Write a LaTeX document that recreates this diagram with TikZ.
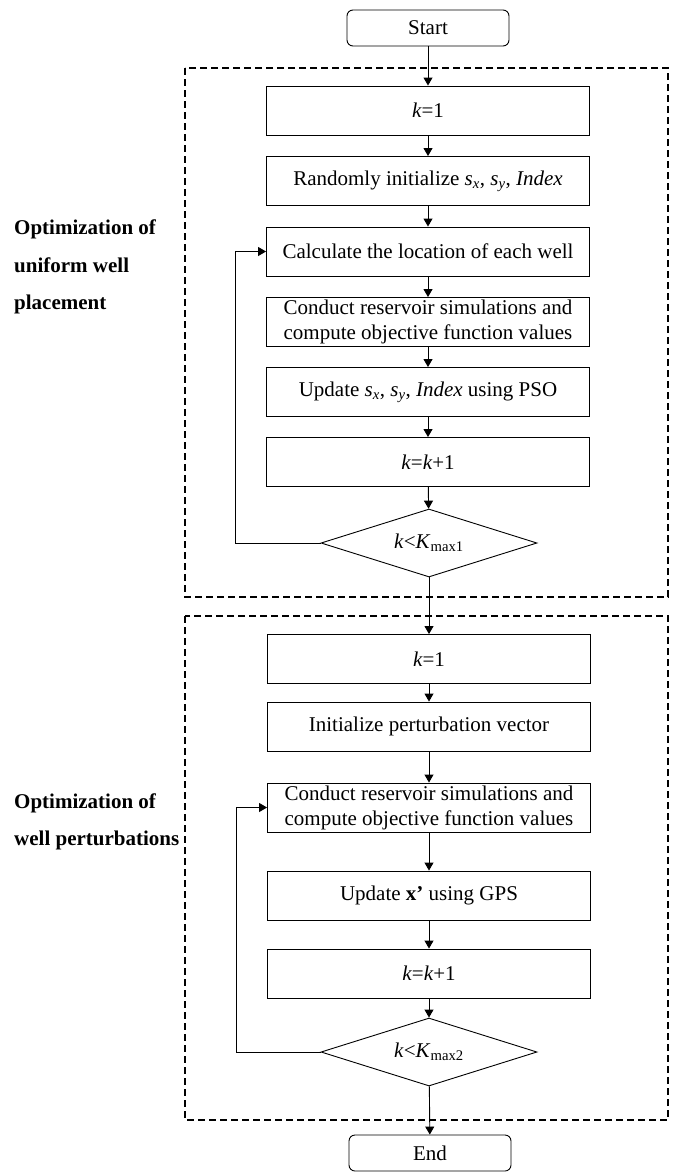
\documentclass[tikz,border=0pt]{standalone}
\usepackage{fontspec}
\setmainfont{Liberation Serif}
\usetikzlibrary{shapes.geometric, arrows.meta}

\tikzset{
	box/.style={draw, line width=0.9pt, rectangle, minimum width=323pt, minimum height=49pt, inner sep=2pt, align=center, font=\fontsize{21}{25}\selectfont},
	term/.style={draw, line width=0.9pt, rectangle, rounded corners=6pt, minimum width=162pt, minimum height=36pt, inner sep=2pt, font=\fontsize{21}{25}\selectfont},
	test/.style={draw, line width=0.9pt, diamond, aspect=3.2, minimum width=216pt, minimum height=68pt, inner sep=0pt, font=\fontsize{21}{25}\selectfont},
	frame/.style={draw, line width=2pt, dash pattern=on 7pt off 4pt},
	label/.style={anchor=west, inner sep=0pt, align=left, font=\bfseries\fontsize{21}{37.5}\selectfont},
	arr/.style={line width=0.9pt, -{Triangle[length=8pt, width=9pt]}}
}

\begin{document}
\begin{tikzpicture}[x=1pt, y=-1pt]

	\useasboundingbox (0,0) rectangle (676,1172);

	% dashed frames
	\draw[frame] (185,68) rectangle (668,597);
	\draw[frame] (185,616) rectangle (668,1120);

	\node[term] (start) at (428,28) {Start};

	% uniform well placement
	\node[box] (ka) at (428,110.5) {\textit{k}=1};
	\node[box] (init) at (428,181) {Randomly initialize \textit{s}\textsubscript{\textit{x}}, \textit{s}\textsubscript{\textit{y}}, \textit{Index}};
	\node[box] (calc) at (428,251.5) {Calculate the location of each well};
	\node[box] (sima) at (428,322) {Conduct reservoir simulations and\\compute objective function values};
	\node[box] (pso) at (428,392) {Update \textit{s}\textsubscript{\textit{x}}, \textit{s}\textsubscript{\textit{y}}, \textit{Index} using PSO};
	\node[box] (inca) at (428,462) {\textit{k}=\textit{k}+1};
	\node[test] (testa) at (429,543) {\textit{k}<\textit{K}\textsubscript{max1}};

	% well perturbations
	\node[box] (kb) at (429,659) {\textit{k}=1};
	\node[box] (pert) at (429,726.5) {Initialize perturbation vector};
	\node[box] (simb) at (429,807.5) {Conduct reservoir simulations and\\compute objective function values};
	\node[box] (gps) at (429,895.5) {Update \textbf{x’} using GPS};
	\node[box] (incb) at (429,973.5) {\textit{k}=\textit{k}+1};
	\node[test] (testb) at (429,1052) {\textit{k}<\textit{K}\textsubscript{max2}};

	\node[term] (end) at (430,1153) {End};

	\node[label] (laba) at (14,267) {Optimization of\\uniform well\\placement};
	\node[label] (labb) at (14,822) {Optimization of\\well perturbations};

	\draw[arr] (start) -- (ka);
	\draw[arr] (ka) -- (init);
	\draw[arr] (init) -- (calc);
	\draw[arr] (calc) -- (sima);
	\draw[arr] (sima) -- (pso);
	\draw[arr] (pso) -- (inca);
	\draw[arr] (inca) -- (testa);
	\draw[arr] (testa.west) -- ++(-85,0) |- (calc.west);
	\draw[arr] (testa) -- (kb);

	\draw[arr] (kb) -- (pert);
	\draw[arr] (pert) -- (simb);
	\draw[arr] (simb) -- (gps);
	\draw[arr] (gps) -- (incb);
	\draw[arr] (incb) -- (testb);
	\draw[arr] (testb.west) -- ++(-84,0) |- (simb.west);
	\draw[arr] (testb) -- (end);

\end{tikzpicture}
\end{document}
